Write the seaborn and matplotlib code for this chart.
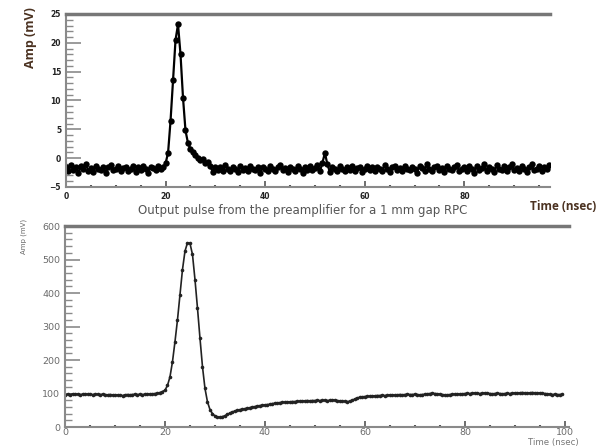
import numpy as np
import pandas as pd
import seaborn as sns
import matplotlib.pyplot as plt
from matplotlib.ticker import AutoMinorLocator

# preamplifier output, 1 mm gap RPC, sampled every 0.5 ns from 0 ns
pulse_step = 0.5
pulse_mv = [
    -1.5, -2.3, -1.2, -2.0, -1.6, -2.6, -1.4, -1.9, -1.1, -2.2,
    -1.7, -2.4, -1.3, -1.8, -2.1, -1.5, -2.5, -1.6, -1.2, -2.0,
    -1.9, -1.4, -2.3, -1.7, -1.5, -2.2, -1.8, -1.3, -2.4, -1.6,
    -2.0, -1.4, -1.9, -2.5, -1.5, -1.7, -2.1, -1.3, -1.8, -1.6,
    -0.9, 0.9, 6.5, 13.5, 20.5, 23.2, 18.0, 10.5, 4.8, 2.6,
    1.6, 1.0, 0.5, 0.1, -0.4, -0.2, -0.9, -0.6, -1.4, -2.4,
    -1.5, -2.1, -1.6, -2.3, -1.2, -1.9, -2.2, -1.5, -1.8, -2.4,
    -1.4, -2.0, -1.7, -2.3, -1.3, -1.9, -2.1, -1.6, -2.5, -1.5,
    -1.8, -2.2, -1.4, -1.9, -2.3, -1.6, -1.2, -2.0, -1.7, -2.4,
    -1.5, -1.9, -2.2, -1.3, -1.8, -2.5, -1.6, -2.0, -1.4, -2.1,
    -1.7, -1.2, -2.3, -0.8, 0.9, -1.1, -2.4, -1.5, -1.9, -2.2,
    -1.4, -1.8, -2.3, -1.6, -2.0, -1.3, -2.2, -1.7, -1.5, -2.4,
    -1.8, -1.3, -2.1, -1.6, -2.3, -1.5, -1.9, -2.2, -1.2, -1.8,
    -2.4, -1.6, -1.4, -2.0, -1.7, -2.3, -1.3, -1.9, -2.1, -1.5,
    -1.8, -2.5, -1.4, -1.7, -2.2, -1.1, -1.9, -2.3, -1.6, -1.4,
    -2.0, -1.7, -2.4, -1.3, -1.8, -2.1, -1.5, -1.2, -2.2, -1.9,
    -1.6, -2.3, -1.4, -1.8, -2.5, -1.3, -2.0, -1.7, -1.1, -2.2,
    -1.5, -1.9, -2.4, -1.2, -1.8, -2.1, -1.4, -2.3, -1.6, -1.0,
    -2.0, -1.7, -2.2, -1.3, -1.9, -2.4, -1.5, -1.1, -2.1, -1.8,
    -1.4, -2.3, -1.6, -1.9, -1.2,
]

# second trace, sampled every 0.5 ns from 0 ns
trace_step = 0.5
trace_mv = [
    97, 98, 97, 99, 98, 98, 97, 98, 99, 98,
    98, 97, 98, 98, 97, 98, 97, 96, 97, 96,
    95, 96, 95, 94, 96, 97, 96, 97, 98, 97,
    98, 97, 98, 99, 98, 99, 100, 101, 103, 106,
    110, 124, 150, 195, 255, 320, 395, 470, 525, 550,
    548, 515, 440, 355, 265, 180, 115, 75, 52, 40,
    33, 30, 29, 31, 34, 38, 42, 45, 48, 50,
    52, 53, 55, 56, 58, 60, 61, 63, 64, 65,
    66, 67, 68, 70, 71, 72, 73, 74, 74, 75,
    75, 76, 76, 77, 77, 78, 78, 79, 78, 79,
    79, 80, 79, 80, 80, 79, 80, 81, 80, 79,
    78, 77, 77, 76, 77, 80, 84, 87, 89, 90,
    91, 92, 92, 93, 93, 94, 94, 95, 94, 95,
    96, 96, 95, 96, 97, 96, 97, 98, 97, 97,
    98, 97, 96, 97, 98, 99, 100, 101, 100, 99,
    98, 97, 96, 96, 97, 98, 98, 99, 98, 99,
    100, 101, 100, 101, 102, 101, 100, 101, 102, 101,
    100, 99, 100, 101, 100, 99, 100, 101, 100, 101,
    102, 101, 102, 103, 102, 101, 102, 103, 102, 101,
    102, 101, 100, 99, 98, 97, 98, 97, 97, 98,
]

top_xticks = [0, 20, 40, 60, 80]
top_yticks = [-5, 0, 5, 10, 15, 20, 25]
bot_xticks = [0, 20, 40, 60, 80, 100]
bot_yticks = [0, 100, 200, 300, 400, 500, 600]

top = pd.DataFrame({"t": np.arange(len(pulse_mv)) * pulse_step, "amp": pulse_mv})
bot = pd.DataFrame({"t": np.arange(len(trace_mv)) * trace_step, "amp": trace_mv})

sns.set_style("ticks")
plt.rcParams["font.family"] = ["DejaVu Sans"]

fig = plt.figure(figsize=(6.02, 4.47), dpi=100)
ax1 = fig.add_axes([0.1096, 0.5817, 0.804, 0.387])
ax2 = fig.add_axes([0.108, 0.0447, 0.837, 0.4497])

sns.lineplot(data=top, x="t", y="amp", ax=ax1, color="black", lw=1.6,
             marker="o", markersize=4.6, markeredgewidth=0, estimator=None)
sns.lineplot(data=bot, x="t", y="amp", ax=ax2, color="#222222", lw=1.2,
             marker="o", markersize=2.6, markeredgewidth=0, estimator=None)

spine_col = "#8a8a8a"
for ax in (ax1, ax2):
    ax.set_xlabel("")
    ax.set_ylabel("")
    ax.spines["right"].set_visible(False)
    ax.spines["top"].set_color("#777777")
    ax.spines["top"].set_linewidth(2.5)
    ax.spines["left"].set_color(spine_col)
    ax.spines["bottom"].set_color(spine_col)
    ax.spines["left"].set_linewidth(1.5)
    ax.spines["bottom"].set_linewidth(1.5)
    ax.xaxis.set_minor_locator(AutoMinorLocator(4))
    ax.yaxis.set_minor_locator(AutoMinorLocator(5))
    ax.tick_params(axis="y", which="major", direction="in", length=11,
                   width=1.2, color=spine_col, right=False)
    ax.tick_params(axis="y", which="minor", direction="in", length=5,
                   width=1.0, color=spine_col, right=False)
    ax.tick_params(axis="x", which="major", direction="in", length=4,
                   width=1.2, color="#555555", top=False)
    ax.tick_params(axis="x", which="minor", direction="in", length=1.5,
                   width=1.5, color="#555555", top=False)

ax1.set_xlim(0, 97.2)
ax1.set_ylim(-5, 25)
ax1.set_xticks(top_xticks)
ax1.set_yticks(top_yticks)
ax1.tick_params(axis="both", which="major", labelsize=5.5, labelcolor="#222222")
for lab in ax1.get_xticklabels() + ax1.get_yticklabels():
    lab.set_fontweight("bold")

ax2.set_xlim(0, 100.8)
ax2.set_ylim(0, 600)
ax2.set_xticks(bot_xticks)
ax2.set_yticks(bot_yticks)
ax2.tick_params(axis="both", which="major", labelsize=6.8, labelcolor="#6a6a6a")
ax2.tick_params(axis="x", which="major", pad=0.5)

label_col = "#4b3221"
fig.text(0.05, 0.915, "Amp (mV)", rotation=90, ha="center", va="center",
         fontsize=9, fontweight="bold", color=label_col, family="Open Sans")
fig.text(0.88, 0.537, "Time (nsec)", ha="left", va="center",
         fontsize=8.5, fontweight="bold", color=label_col, family="Open Sans")
fig.text(0.502, 0.530, "Output pulse from the preamplifier for a 1 mm gap RPC",
         ha="center", va="center", fontsize=8.5, color="#555555")
fig.text(0.04, 0.472, "Amp (mV)", rotation=90, ha="center", va="center",
         fontsize=5, color="#666666")
fig.text(0.962, 0.001, "Time (nsec)", ha="right", va="bottom",
         fontsize=6.2, color="#777777")

fig.savefig("out.png", dpi=100)
plt.close(fig)
